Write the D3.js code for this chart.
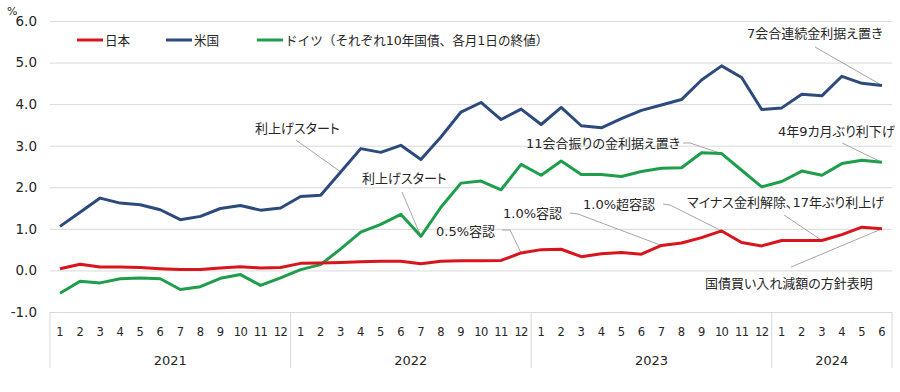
<!DOCTYPE html>
<html>
<head>
<meta charset="utf-8">
<script src="https://cdn.jsdelivr.net/npm/d3@7"></script>
<style>
  body { margin: 0; background: #fff; }
  text { font-family: "DejaVu Sans", "Noto Sans CJK JP", sans-serif; fill: #262626; }
  .jp { font-feature-settings: "palt"; }
</style>
</head>
<body>
<script>
// data (10年国債利回り, 各月1日の終値)
let years = ['2021', '2022', '2023', '2024'];
let monthsPerYear = [12, 12, 12, 6];
let japan = [0.04, 0.15, 0.08, 0.08, 0.07, 0.04, 0.02, 0.02, 0.06, 0.09, 0.06, 0.07,
             0.17, 0.18, 0.19, 0.21, 0.22, 0.22, 0.16, 0.22, 0.23, 0.23, 0.24, 0.42,
             0.50, 0.51, 0.33, 0.40, 0.43, 0.39, 0.60, 0.66, 0.79, 0.95, 0.67, 0.59,
             0.72, 0.72, 0.72, 0.86, 1.04, 1.00];
let us = [1.06, 1.40, 1.74, 1.62, 1.58, 1.46, 1.22, 1.30, 1.49, 1.56, 1.45, 1.50,
          1.78, 1.81, 2.37, 2.93, 2.84, 3.01, 2.67, 3.21, 3.81, 4.04, 3.63, 3.88,
          3.51, 3.92, 3.48, 3.43, 3.65, 3.85, 3.98, 4.11, 4.58, 4.92, 4.64, 3.87,
          3.91, 4.24, 4.20, 4.67, 4.50, 4.45];
let germany = [-0.55, -0.26, -0.30, -0.20, -0.18, -0.20, -0.46, -0.39, -0.19, -0.10, -0.36, -0.18,
               0.02, 0.14, 0.52, 0.92, 1.11, 1.35, 0.82, 1.52, 2.10, 2.15, 1.94, 2.55,
               2.29, 2.63, 2.31, 2.31, 2.26, 2.38, 2.46, 2.47, 2.83, 2.81, 2.41, 2.01,
               2.14, 2.39, 2.29, 2.57, 2.65, 2.60];
let yTicks = [-1, 0, 1, 2, 3, 4, 5, 6];
let seriesNames = ['日本', '米国', 'ドイツ（それぞれ10年国債、各月1日の終値）'];

let months = [];
years.forEach((y, j) => d3.range(1, monthsPerYear[j] + 1).forEach(m => months.push({ year: y, m: m })));

let width = 900, height = 392;
let padL = 50, padR = 892, padT = 21, padB = 312;
let colors = { jp: '#d8141c', us: '#2d4a7c', de: '#1e9e4b' };

let svg = d3.select('body').append('svg')
            .attr('width', width)
            .attr('height', height);

let xScale = d3.scaleBand()
               .domain(d3.range(months.length))
               .range([padL, padR])
               .padding(0);
let yScale = d3.scaleLinear()
               .domain([-1, 6])
               .range([padB, padT]);
let cx = i => xScale(i) + xScale.bandwidth() / 2;

// grid + y axis
let yAxis = d3.axisLeft(yScale).tickValues(yTicks).tickFormat(d => d.toFixed(1))
              .tickSize(-(padR - padL)).tickPadding(13);
let gy = svg.append('g').attr('transform', 'translate(' + padL + ',0)').call(yAxis);
gy.select('.domain').remove();
gy.selectAll('.tick line').attr('stroke', '#d9d9d9');
gy.selectAll('.tick text').style('font-size', '13.5px').attr('fill', '#262626');

svg.append('text').attr('x', 7).attr('y', 15).style('font-size', '11px').text('%');

// x axis: months then years with separators
let gx = svg.append('g');
gx.selectAll('.mlab').data(months).enter().append('text')
  .attr('x', (d, i) => cx(i)).attr('y', 336)
  .attr('text-anchor', 'middle')
  .style('font-size', '11.5px')
  .style('letter-spacing', d => d.m >= 10 ? '-0.6px' : '0px')
  .text(d => d.m);

let starts = [0];
monthsPerYear.forEach((n, j) => starts.push(starts[j] + n));
gx.selectAll('.sep').data(starts).enter().append('line')
  .attr('x1', d => d < months.length ? xScale(d) : padR)
  .attr('x2', d => d < months.length ? xScale(d) : padR)
  .attr('y1', padB).attr('y2', 368)
  .attr('stroke', '#d9d9d9');
gx.selectAll('.ylab').data(years).enter().append('text')
  .attr('x', (d, j) => {
      let a = xScale(starts[j]);
      let b = starts[j + 1] < months.length ? xScale(starts[j + 1]) : padR;
      return (a + b) / 2;
  })
  .attr('y', 365)
  .attr('text-anchor', 'middle')
  .style('font-size', '13px')
  .text(d => d);

// annotations (label layout in px, target = series point)
let notes = [
  { t: '利上げスタート', x: 255, y: 128, from: [[296, 140]], s: us, i: 14 },
  { t: '利上げスタート', x: 362, y: 178, from: [[402, 192]], s: germany, i: 18 },
  { t: '0.5%容認', x: 436, y: 231, from: [[502, 230], [510, 230]], s: japan, i: 23 },
  { t: '1.0%容認', x: 503, y: 213, from: [[570, 213], [578, 214]], s: japan, i: 30 },
  { t: '1.0%超容認', x: 583, y: 204, from: [[663, 204], [670, 205]], s: japan, i: 33 },
  { t: 'マイナス金利解除、17年ぶり利上げ', x: 687, y: 202, from: [[784, 215]], s: japan, i: 38 },
  { t: '国債買い入れ減額の方針表明', x: 705, y: 283, from: [[791, 267]], s: japan, i: 41 },
  { t: '11会合振りの金利据え置き', x: 526, y: 143, from: [[683, 143], [690, 143]], s: germany, i: 33 },
  { t: '4年9カ月ぶり利下げ', x: 778, y: 131, from: [[842, 143]], s: germany, i: 41 },
  { t: '7会合連続金利据え置き', x: 747, y: 33, from: [[815, 47]], s: us, i: 41 }
];
let gn = svg.append('g');
notes.forEach(n => {
    let pts = n.from.concat([[cx(n.i), yScale(n.s[n.i])]]);
    gn.append('path')
      .attr('d', d3.line()(pts))
      .attr('fill', 'none')
      .attr('stroke', '#a6a6a6')
      .attr('stroke-width', 1);
    gn.append('text')
      .attr('class', 'jp')
      .attr('x', n.x).attr('y', n.y)
      .attr('dy', '0.36em')
      .style('font-size', '13px')
      .text(n.t);
});

// lines
let line = d3.line().x((d, i) => cx(i)).y(d => yScale(d));
[[germany, colors.de], [us, colors.us], [japan, colors.jp]].forEach(s => {
    svg.append('path')
       .datum(s[0])
       .attr('d', line)
       .attr('fill', 'none')
       .attr('stroke', s[1])
       .attr('stroke-width', 3)
       .attr('stroke-linejoin', 'round');
});

// legend
let legX = [77, 166, 257];
let legC = [colors.jp, colors.us, colors.de];
seriesNames.forEach((name, k) => {
    svg.append('line')
       .attr('x1', legX[k]).attr('x2', legX[k] + 26)
       .attr('y1', 40).attr('y2', 40)
       .attr('stroke', legC[k]).attr('stroke-width', 3);
    svg.append('text')
       .attr('x', legX[k] + 28).attr('y', 40).attr('dy', '0.36em')
       .style('font-size', '12.6px')
       .text(name);
});
</script>
</body>
</html>
